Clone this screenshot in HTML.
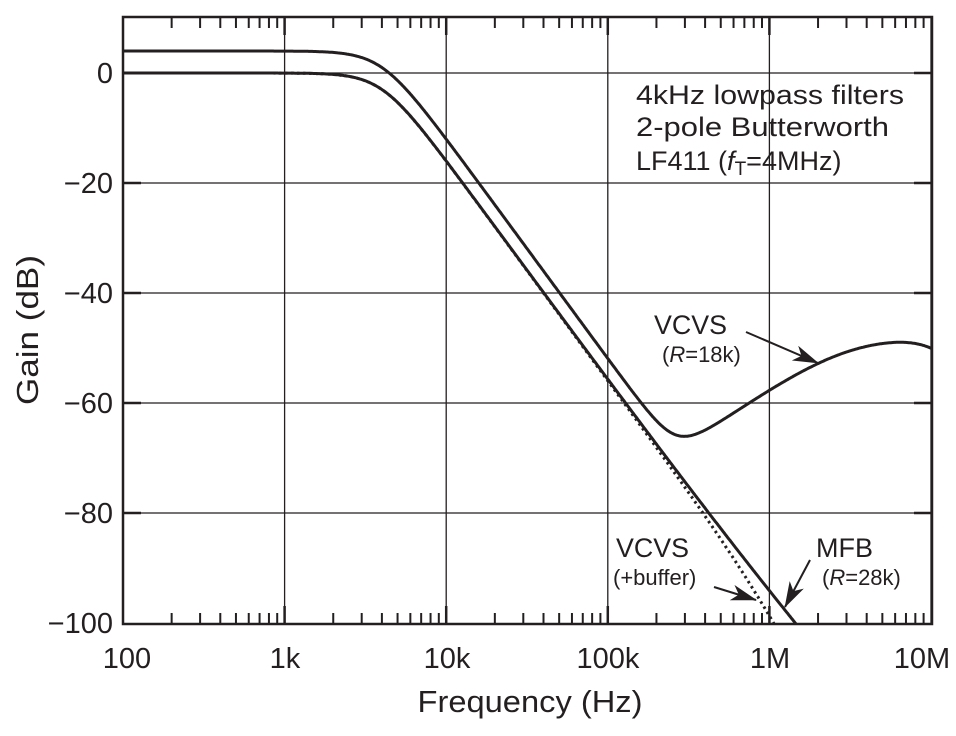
<!DOCTYPE html>
<html><head><meta charset="utf-8"><style>
html,body{margin:0;padding:0;background:#fff;width:956px;height:736px;overflow:hidden;}
svg{display:block;font-family:"Liberation Sans",sans-serif;}
</style></head><body>
<svg id="s" width="956" height="736" viewBox="0 0 956 736" xmlns="http://www.w3.org/2000/svg">
<defs><clipPath id="c"><rect x="123" y="17" width="809" height="607"/></clipPath>
<marker id="ah2" viewBox="0 0 26 16" markerWidth="26" markerHeight="16" refX="25" refY="8" orient="auto" markerUnits="userSpaceOnUse"><path d="M0,0 L26,8 L0,16 L7,8 Z" fill="#231f20"/></marker>
</defs>
<g id="grid" stroke="#231f20" stroke-width="1.3" fill="none"></g>
<g id="curves" clip-path="url(#c)" fill="none" stroke="#231f20" stroke-width="3"></g>
<rect x="123" y="17" width="809" height="607" fill="none" stroke="#231f20" stroke-width="2.5"/>
<g fill="#231f20" font-size="29" text-anchor="end">
<text x="113" y="83">0</text><text x="113" y="193">−20</text><text x="113" y="303">−40</text>
<text x="113" y="413">−60</text><text x="113" y="523">−80</text><text x="113" y="633">−100</text>
</g>
<g fill="#231f20" font-size="29" text-anchor="middle">
<text x="127" y="668">100</text><text x="285" y="668">1k</text><text x="447" y="668">10k</text>
<text x="608" y="668">100k</text><text x="770" y="668">1M</text><text x="922" y="668">10M</text>
<text x="530" y="712" font-size="31" textLength="225" lengthAdjust="spacingAndGlyphs">Frequency (Hz)</text>
<text transform="translate(38,330) rotate(-90)" font-size="31" textLength="150" lengthAdjust="spacingAndGlyphs">Gain (dB)</text>
</g>
<g fill="#231f20" font-size="27">
<text x="636" y="104" textLength="268" lengthAdjust="spacingAndGlyphs">4kHz lowpass filters</text>
<text x="636" y="136" textLength="253" lengthAdjust="spacingAndGlyphs">2-pole Butterworth</text>
<text x="636" y="170">LF411 (<tspan font-style="italic">f</tspan><tspan font-size="19" dy="5">T</tspan><tspan dy="-5">=4MHz)</tspan></text>
<text x="654" y="334" textLength="73" lengthAdjust="spacingAndGlyphs">VCVS</text>
<text x="662" y="362" font-size="22">(<tspan font-style="italic">R</tspan>=18k)</text>
<text x="616" y="557" textLength="73" lengthAdjust="spacingAndGlyphs">VCVS</text>
<text x="613" y="585" font-size="22">(+buffer)</text>
<text x="816" y="557">MFB</text>
<text x="822" y="585" font-size="22">(<tspan font-style="italic">R</tspan>=28k)</text>
</g>
<g stroke="#231f20" stroke-width="2">
<line x1="746" y1="332" x2="818" y2="363" marker-end="url(#ah2)"/>
<line x1="714" y1="587" x2="756" y2="600" marker-end="url(#ah2)"/>
<line x1="810" y1="560" x2="785" y2="607" marker-end="url(#ah2)"/>
</g>
</svg>
<script>
var L=123,D=161.6,Y0=73,K=5.5;
function X(f){return L+(Math.log10(f)-2)*D;}
function Y(db){return Y0-db*K;}
var g=document.getElementById('grid'),h='';
for(var d=2;d<=7;d++){var x=L+(d-2)*D;h+='<line x1="'+x+'" y1="17" x2="'+x+'" y2="624"/>';
 if(d>2&&d<7)h+='<line x1="'+x+'" y1="17" x2="'+x+'" y2="35" stroke-width="2.5"/><line x1="'+x+'" y1="624" x2="'+x+'" y2="606" stroke-width="2.5"/>';
 for(var m=2;m<=9&&d<7;m++){var xm=L+(d-2+Math.log10(m))*D;h+='<line x1="'+xm+'" y1="17" x2="'+xm+'" y2="28" stroke-width="2"/><line x1="'+xm+'" y1="624" x2="'+xm+'" y2="613" stroke-width="2"/>';}
}
for(var v=0;v>=-80;v-=20){var y=Y(v);h+='<line x1="123" y1="'+y+'" x2="932" y2="'+y+'"/><line x1="123" y1="'+y+'" x2="141" y2="'+y+'" stroke-width="2.5"/><line x1="914" y1="'+y+'" x2="932" y2="'+y+'" stroke-width="2.5"/>';}
g.innerHTML=h;
function lp(f,G){return G-10*Math.log10(1+Math.pow(f/4000,4));}
function path(fn,dash){var p='';for(var i=0;i<=700;i++){var lf=2+5*i/700,f=Math.pow(10,lf);p+=(i?'L':'M')+X(f).toFixed(1)+','+Y(fn(f)).toFixed(1);}
 return '<path d="'+p+'"'+(dash?' stroke-dasharray="2.5,3.5" stroke-width="3"':'')+'/>';}
var c='';
c+=path(function(f){var a=lp(f,4);var x=f/3e6;var F=-47.7+20*Math.log10(x/Math.sqrt(1+x*x))-10*Math.log10(1+Math.pow(f/11.5e6,4));return 10*Math.log10(Math.pow(10,a/10)+Math.pow(10,F/10));});
c+=path(function(f){return lp(f,0)+1.2*Math.log10(1+f/1e6)*5;});
c+=path(function(f){return lp(f,0)-10*Math.log10(1+Math.pow(f/1.05e6,2));},true);
document.getElementById('curves').innerHTML=c;
</script>
</body></html>
